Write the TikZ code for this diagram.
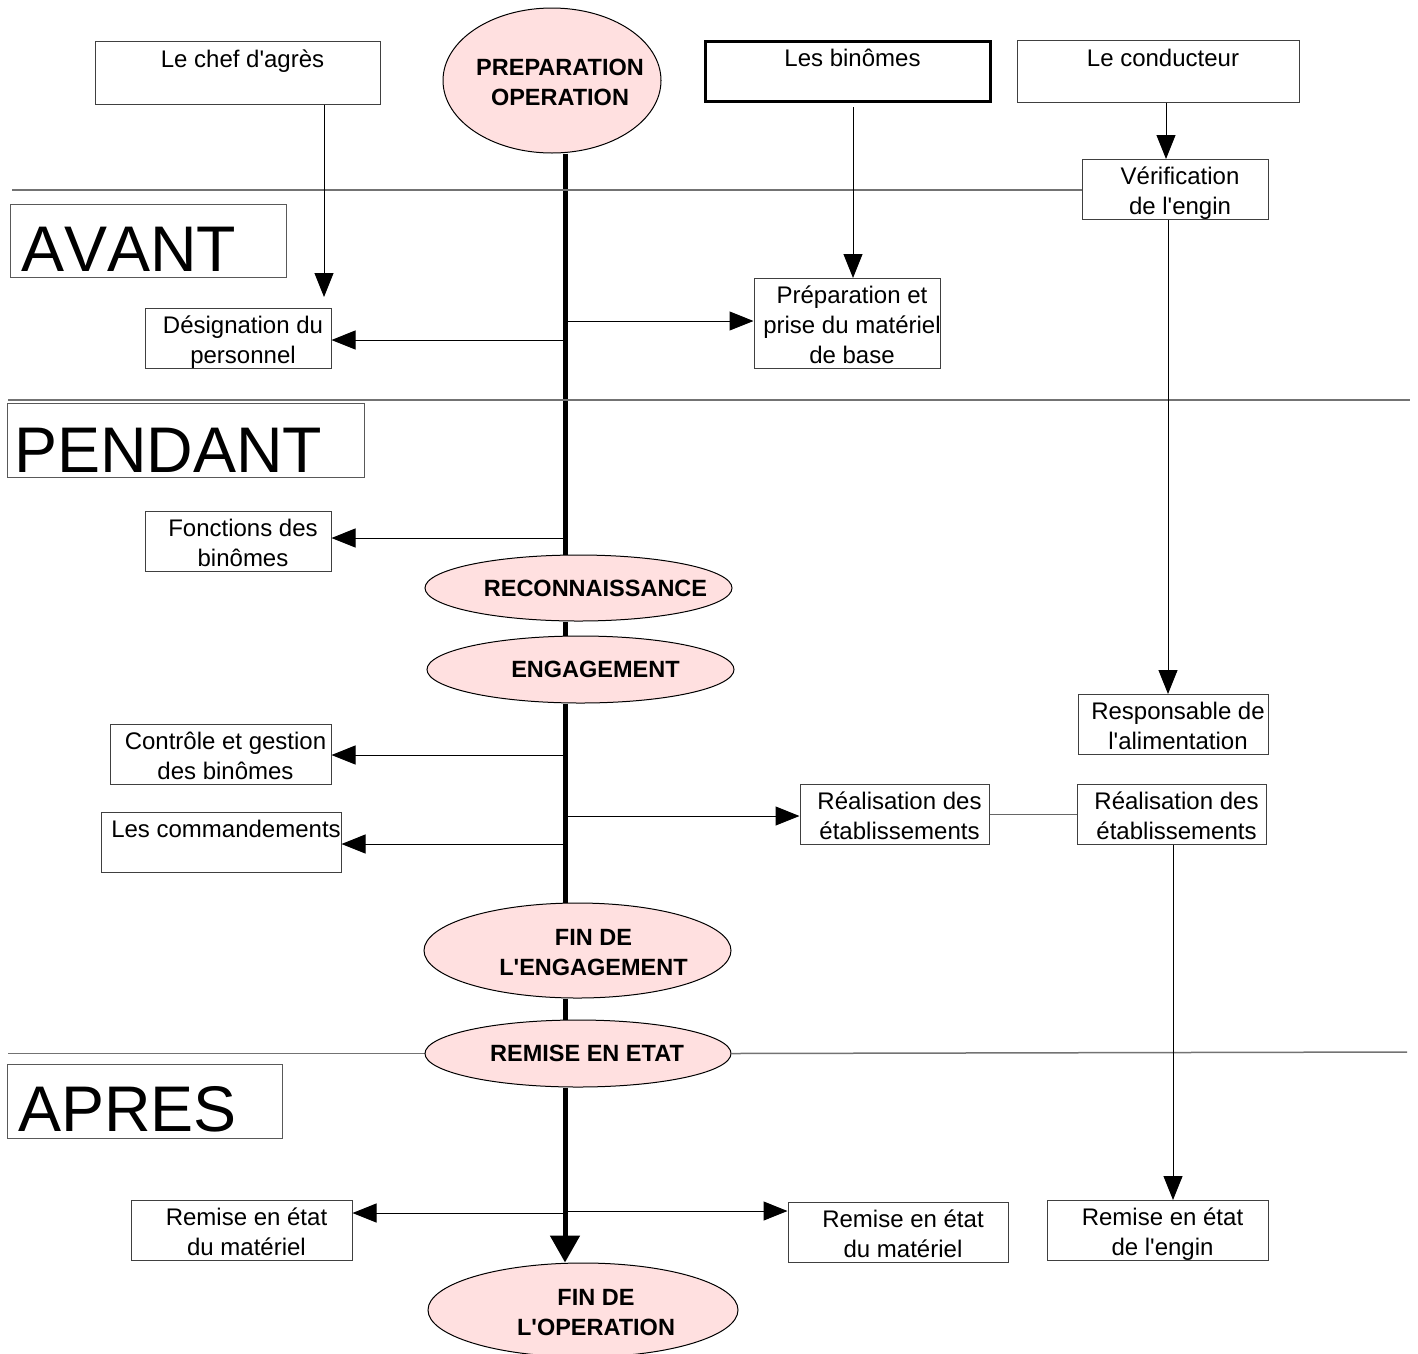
\documentclass[tikz,border=0pt]{standalone}
\usepackage{fontspec}
\setmainfont{Liberation Sans}[Ligatures=TeXOff]
\newfontfamily\bigfam{Liberation Sans}[Kerning=Off]
\usetikzlibrary{shapes.geometric,arrows.meta}
\definecolor{pinkf}{RGB}{255,224,224}
\pgfdeclarelayer{background}
\pgfsetlayers{background,main}
\newcommand\fsn{\fontsize{24}{30}\selectfont}
\newcommand\fsb{\fontsize{23.5}{30}\selectfont\bfseries}
\newcommand\fsbig{\bigfam\fontsize{64.5}{70}\selectfont}
\newcommand\stt{\rule[-5pt]{0pt}{30pt}}
\newcommand\ste{\rule[-7pt]{0pt}{30pt}}
\newcommand\bl[1]{\makebox[0pt][c]{\hspace*{10pt}\stt #1}}
\newcommand\el[2]{\makebox[0pt][c]{\hspace*{#1}\stt #2}}
\newcommand\es[2]{\makebox[0pt][c]{\hspace*{#1}\ste #2}}
\begin{document}
\begin{tikzpicture}[x=1pt,y=-1pt,
  box/.style={draw=black!75, line width=1pt, inner sep=0pt, align=center, font=\fsn},
  ell/.style={ellipse, draw=black, line width=1pt, fill=pinkf, inner sep=0pt, align=center, font=\fsb},
  frame/.style={draw=black!65, line width=1pt, inner sep=0pt},
  bigtxt/.style={inner sep=0pt, anchor=base west, font=\fsbig},
  arr/.style={draw=black, line width=1pt, -{Triangle[length=24pt,width=19pt]}},
  link/.style={draw=black!60, line width=1pt},
  spineln/.style={draw=black, line width=5pt},
  sepln/.style={draw=black!55, line width=1.5pt}]
\useasboundingbox (0,0) rectangle (1418,1353);

% ---- boxes ----
\node[box, minimum width=285pt, minimum height=63pt] (chef) at (237.5,72.5) {\bl{Le chef d'agrès}\\\bl{}};
\node[box, line width=3pt, draw=black, minimum width=285pt, minimum height=60pt] (binomes) at (847.5,71) {\bl{Les binômes}\\\bl{}};
\node[box, minimum width=282pt, minimum height=62pt] (cond) at (1158,71) {\bl{Le conducteur}\\\bl{}};
\node[box, minimum width=186pt, minimum height=59pt] (verif) at (1175,189.5) {\bl{Vérification}\\\bl{de l'engin}};
\node[box, minimum width=186pt, minimum height=60pt] (desig) at (238,338) {\bl{Désignation du}\\\bl{personnel}};
\node[box, minimum width=186pt, minimum height=89pt] (prepmat) at (847,323.5) {\bl{Préparation et}\\\bl{prise du matériel}\\\bl{de base}};
\node[box, minimum width=186pt, minimum height=59pt] (fonct) at (238,541.5) {\bl{Fonctions des}\\\bl{binômes}};
\node[box, minimum width=221pt, minimum height=59pt] (ctrl) at (220.5,754.5) {\bl{Contrôle et gestion}\\\bl{des binômes}};
\node[box, minimum width=240pt, minimum height=60pt] (cmd) at (221,842) {\bl{Les commandements}\\\bl{}};
\node[box, minimum width=189pt, minimum height=60pt] (real1) at (894.5,814) {\bl{Réalisation des}\\\bl{établissements}};
\node[box, minimum width=189pt, minimum height=60pt] (real2) at (1171.5,814) {\bl{Réalisation des}\\\bl{établissements}};
\node[box, minimum width=190pt, minimum height=59pt] (resp) at (1173,724.5) {\bl{Responsable de}\\\bl{l'alimentation}};
\node[box, minimum width=221pt, minimum height=59pt] (remA) at (241.5,1230.5) {\bl{Remise en état}\\\bl{du matériel}};
\node[box, minimum width=220pt, minimum height=59pt] (remB) at (898,1232.5) {\bl{Remise en état}\\\bl{du matériel}};
\node[box, minimum width=221pt, minimum height=59pt] (remC) at (1157.5,1230.5) {\bl{Remise en état}\\\bl{de l'engin}};

% ---- phase frames ----
\node[frame, minimum width=276pt, minimum height=73pt] (avant) at (148,240.5) {};
\node[frame, minimum width=357pt, minimum height=74pt] (pendant) at (185.5,440) {};
\node[frame, minimum width=275pt, minimum height=74pt] (apres) at (144.5,1101) {};
\node[bigtxt] (avantt) at (21,271) {AVANT};
\node[bigtxt] (pendantt) at (14,472) {PENDANT};
\node[bigtxt] (aprest) at (18,1131) {APRES};

% ---- ellipses ----
\node[ell, minimum width=218pt, minimum height=145pt] (prep) at (552,80.5) {\el{16pt}{PREPARATION}\\\el{16pt}{OPERATION}};
\node[ell, minimum width=307pt, minimum height=66pt] (recon) at (578.5,588) {\es{34pt}{RECONNAISSANCE}};
\node[ell, minimum width=307pt, minimum height=67pt] (engage) at (580.5,669.5) {\es{30pt}{ENGAGEMENT}};
\node[ell, minimum width=307pt, minimum height=95pt] (finE) at (577.5,950.5) {\el{32pt}{FIN DE}\\\el{32pt}{L'ENGAGEMENT}};
\node[ell, minimum width=306pt, minimum height=67pt] (remise) at (578,1053.5) {\es{18pt}{REMISE EN ETAT}};
\node[ell, minimum width=310pt, minimum height=94pt] (finO) at (583,1310) {\el{26pt}{FIN DE}\\\el{26pt}{L'OPERATION}};

% ---- coordinates ----
\coordinate (sp) at (565,0);
\coordinate (sdesig) at (565,340);
\coordinate (sprep) at (565,321);
\coordinate (sfonct) at (565,538);
\coordinate (sctrl) at (565,755);
\coordinate (sreal) at (565,816);
\coordinate (scmd) at (565,844);
\coordinate (sremA) at (565,1213);
\coordinate (sremB) at (565,1211);
\coordinate (cchef) at (324,297);
\coordinate (cbin) at (853,107);
\coordinate (ccond) at (1166,0);
\coordinate (cver) at (1168,0);
\coordinate (creal) at (1173,0);
\coordinate (sepA) at (12,190);
\coordinate (sepB1) at (8,400);
\coordinate (sepB2) at (1410,400);
\coordinate (sepC1) at (8,1053.5);
\coordinate (sepC2) at (1407,1052);

% ---- spine and separators ----
\begin{pgfonlayer}{background}
\draw[spineln] (prep.south -| sp) -- (recon.north -| sp);
\draw[spineln] (recon.south -| sp) -- (engage.north -| sp);
\draw[spineln] (engage.south -| sp) -- (finE.north -| sp);
\draw[spineln] (finE.south -| sp) -- (remise.north -| sp);
\draw[spineln, -{Triangle[length=27pt,width=29pt]}] (remise.south -| sp) -- (finO.north -| sp);
\draw[sepln] (sepA) -- (verif.west |- sepA);
\draw[sepln] (sepB1) -- (sepB2);
\draw[sepln] (sepC1) -- (remise.west);
\draw[sepln] (remise.east) -- (sepC2);
\end{pgfonlayer}

% ---- connectors ----
\draw[arr] (chef.south -| cchef) -- (cchef);
\draw[arr] (cbin) -- (prepmat.north -| cbin);
\draw[arr] (cond.south -| ccond) -- (verif.north -| ccond);
\draw[arr] (verif.south -| cver) -- (resp.north -| cver);
\draw[arr] (real2.south -| creal) -- (remC.north -| creal);
\draw[arr] (sdesig) -- (desig.east |- sdesig);
\draw[arr] (sprep) -- (prepmat.west |- sprep);
\draw[arr] (sfonct) -- (fonct.east |- sfonct);
\draw[arr] (sctrl) -- (ctrl.east |- sctrl);
\draw[arr] (sreal) -- (real1.west |- sreal);
\draw[arr] (scmd) -- (cmd.east |- scmd);
\draw[arr] (sremA) -- (remA.east |- sremA);
\draw[arr] (sremB) -- (remB.west |- sremB);
\draw[link] (real1.east) -- (real2.west);
\end{tikzpicture}
\end{document}
